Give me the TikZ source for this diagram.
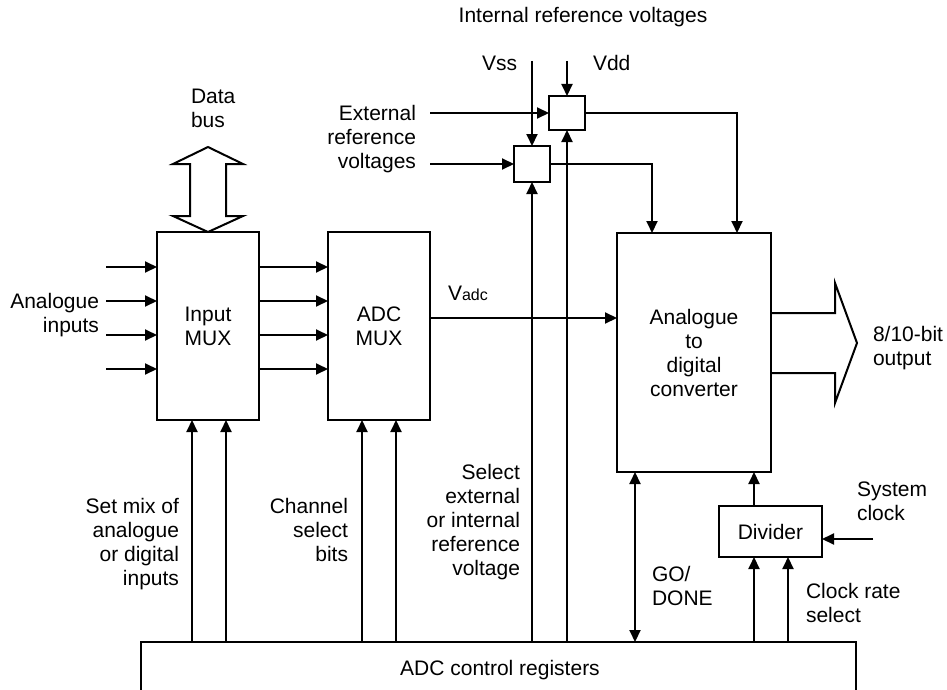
\documentclass[tikz,border=0pt]{standalone}
\usepackage{fontspec}
\setmainfont{Liberation Sans}
\usetikzlibrary{arrows.meta}
\begin{document}
\begin{tikzpicture}[x=1pt,y=-1pt,line width=2pt,line join=miter,
  every node/.style={inner sep=0pt,outer sep=0pt,font=\fontsize{21}{24}\selectfont},
  box/.style={draw,rectangle,align=center},
  conn/.style={-{Triangle[length=12pt,width=11pt]}},
  dconn/.style={{Triangle[length=12pt,width=11pt]}-{Triangle[length=12pt,width=11pt]}}]
\useasboundingbox (0,0) rectangle (947,690);
\clip (0,0) rectangle (947,690);

% blocks
\node[box,minimum width=102pt,minimum height=188pt] (inmux) at (208,326) {Input\\MUX};
\node[box,minimum width=102pt,minimum height=188pt] (adcmux) at (379,326) {ADC\\MUX};
\node[box,minimum width=154pt,minimum height=239pt] (adc) at (694,352.5) {Analogue\\to\\digital\\converter};
\node[box,minimum width=103pt,minimum height=51pt] (div) at (770.5,531.5) {Divider};
\node[box,minimum width=36pt,minimum height=34pt] (boxdd) at (567,113) {};
\node[box,minimum width=36pt,minimum height=36pt] (boxss) at (532,164) {};
\node[box,minimum width=715pt,minimum height=80pt] (ctrl) at (498.5,682) {};

% labels
\node[anchor=base] (irv) at (583,22.7) {Internal reference voltages};
\node[anchor=base west] (vsslbl) at (482,71) {Vss};
\node[anchor=base west] (vddlbl) at (593,71) {Vdd};
\node[anchor=west,align=left] (dbus) at (191,108.5) {Data\\bus};
\node[anchor=east,align=right] (extlbl) at (416,139.5) {External\\reference\\voltages};
\node[anchor=east,align=right] (anlbl) at (99,315) {Analogue\\inputs};
\node[anchor=base west] (vadclbl) at (448,300.7) {V{\fontsize{16}{18}\selectfont adc}};
\node[anchor=west,align=left] (outlbl) at (873,348) {8/10-bit\\output};
\node[anchor=east,align=right] (mixlbl) at (179,544) {Set mix of\\analogue\\or digital\\inputs};
\node[anchor=east,align=right] (chlbl) at (348,530) {Channel\\select\\bits};
\node[anchor=east,align=right] (sellbl) at (520,522.5) {Select\\external\\or internal\\reference\\voltage};
\node[anchor=west,align=left] (sclbl) at (857,501) {System\\clock};
\node[anchor=west,align=left] (golbl) at (652,586) {GO/\\DONE};
\node[anchor=west,align=left] (crlbl) at (806,603) {Clock rate\\select};
\node[anchor=base] (ctrllbl) at (500,675) {ADC control registers};

% free-end coordinates
\coordinate (a1) at (106,267);
\coordinate (a2) at (106,301);
\coordinate (a3) at (106,335);
\coordinate (a4) at (106,369);
\coordinate (vy) at (0,318);
\coordinate (ext1) at (430,113);
\coordinate (ext2) at (430,164);
\coordinate (vss) at (532,61);
\coordinate (vdd) at (567,61);
\coordinate (o1) at (835,313);
\coordinate (o2) at (835,373);
\coordinate (sc) at (873,539);
\coordinate (dx1) at (754,0);
\coordinate (dx2) at (788,0);
\coordinate (go) at (635,0);
\coordinate (c1) at (192,0);
\coordinate (c2) at (226,0);
\coordinate (c3) at (362,0);
\coordinate (c4) at (396,0);

% data bus
\draw (208,147) -- (243,164) -- (226,164) -- (226,216) -- (243,216)
  -- (inmux.north) -- (173,216) -- (190,216) -- (190,164) -- (173,164) -- cycle;

% analogue inputs and mux links
\foreach \p in {a1,a2,a3,a4}{
  \draw[conn] (\p) -- (\p -| inmux.west);
  \draw[conn] (\p -| inmux.east) -- (\p -| adcmux.west);
}
\draw[conn] (vy -| adcmux.east) -- (vy -| adc.west);

% reference selection
\draw[conn] (ext1) -- (ext1 -| boxdd.west);
\draw[conn] (ext2) -- (ext2 -| boxss.west);
\draw[conn] (vss) -- (boxss.north);
\draw[conn] (vdd) -- (boxdd.north);
\draw[conn] (boxss.south |- ctrl.north) -- (boxss.south);
\draw[conn] (boxdd.south |- ctrl.north) -- (boxdd.south);
\draw[conn] (boxss.east) -| ([xshift=35pt]adc.north west);
\draw[conn] (boxdd.east) -| ([xshift=120pt]adc.north west);

% control register links
\draw[conn] (c1 |- ctrl.north) -- (c1 |- inmux.south);
\draw[conn] (c2 |- ctrl.north) -- (c2 |- inmux.south);
\draw[conn] (c3 |- ctrl.north) -- (c3 |- adcmux.south);
\draw[conn] (c4 |- ctrl.north) -- (c4 |- adcmux.south);
\draw[dconn] (go |- adc.south) -- (go |- ctrl.north);
\draw[conn] (dx1 |- ctrl.north) -- (dx1 |- div.south);
\draw[conn] (dx2 |- ctrl.north) -- (dx2 |- div.south);
\draw[conn] (dx1 |- div.north) -- (dx1 |- adc.south);
\draw[conn] (sc) -- (sc -| div.east);

% output bus
\draw (adc.east |- o1) -- (o1) -- (835,283) -- (857,343) -- (835,403) -- (o2) -- (adc.east |- o2);
\end{tikzpicture}
\end{document}
